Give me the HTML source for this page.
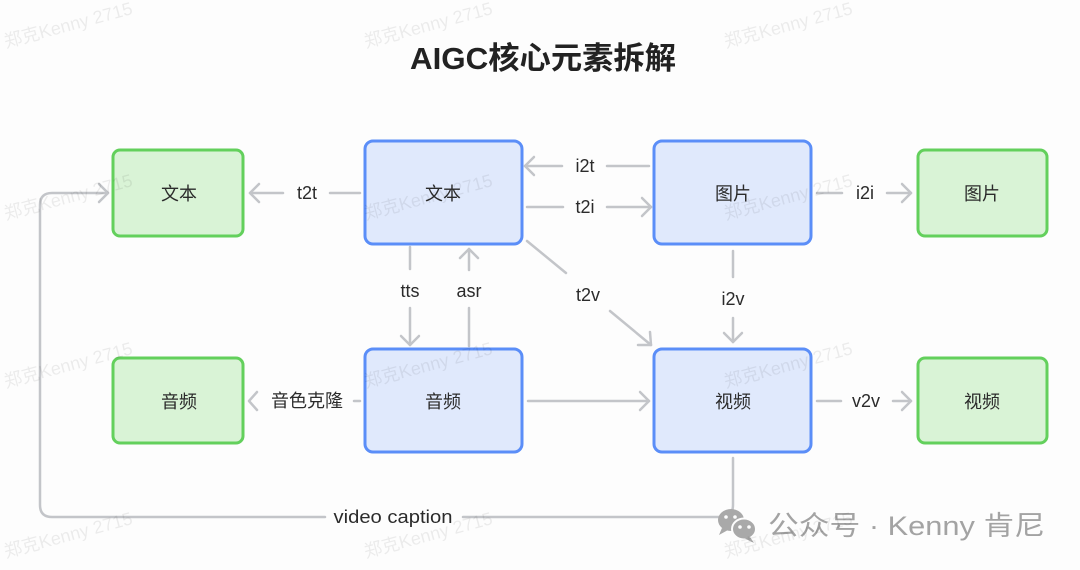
<!DOCTYPE html>
<html>
<head>
<meta charset="utf-8">
<style>
  html, body { margin: 0; padding: 0; background: #fdfdfd; }
  body { width: 1080px; height: 570px; overflow: hidden; }
  svg { display: block; }
  .lbl { font-family: "Liberation Sans", "Noto Sans CJK SC", sans-serif; font-size: 18px; fill: #2b2b2b; }
  .node { font-family: "Liberation Sans", "Noto Sans CJK SC", sans-serif; font-size: 18px; fill: #2b2b2b; }
  .wm { font-family: "Liberation Sans", "Noto Sans CJK SC", sans-serif; font-size: 18px; fill: #000; fill-opacity: 0.07; }
</style>
</head>
<body>
<svg width="1080" height="570" viewBox="0 0 1080 570" xmlns="http://www.w3.org/2000/svg">
  <rect x="0" y="0" width="1080" height="570" fill="#fdfdfd"/>

  <!-- title -->
  <text x="543" y="69" text-anchor="middle" font-family="'Liberation Sans','Noto Sans CJK SC',sans-serif" font-size="31" font-weight="bold" fill="#222" textLength="266" lengthAdjust="spacingAndGlyphs">AIGC核心元素拆解</text>

  <!-- connectors -->
  <g stroke="#c3c5c9" stroke-width="2.5" fill="none" stroke-linecap="round" stroke-linejoin="round">
    <!-- t2t -->
    <path d="M360,193 H330"/>
    <path d="M283,193 H250"/>
    <path d="M259,184 L250,193 L259,202"/>
    <!-- i2t -->
    <path d="M649,166 H607"/>
    <path d="M562,166 H525"/>
    <path d="M534,157 L525,166 L534,175"/>
    <!-- t2i -->
    <path d="M527,207 H563"/>
    <path d="M607,207 H651"/>
    <path d="M642,198 L651,207 L642,216"/>
    <!-- i2i -->
    <path d="M817,193 H842"/>
    <path d="M887,193 H911"/>
    <path d="M902,184 L911,193 L902,202"/>
    <!-- i2v -->
    <path d="M733,251 V277"/>
    <path d="M733,318 V342"/>
    <path d="M724,333 L733,342 L742,333"/>
    <!-- t2v -->
    <path d="M527,241 L566,273"/>
    <path d="M610,311 L651,345"/>
    <path d="M638,345 L651,345 L650,332"/>
    <!-- tts -->
    <path d="M410,247 V269"/>
    <path d="M410,308 V345"/>
    <path d="M401,336 L410,345 L419,336"/>
    <!-- asr -->
    <path d="M469,346 V308"/>
    <path d="M469,270 V249"/>
    <path d="M460,258 L469,249 L478,258"/>
    <!-- 音色克隆 -->
    <path d="M360,401 H354"/>
    <path d="M257,392 L249,401 L257,410"/>
    <!-- audio -> video -->
    <path d="M528,401 H649"/>
    <path d="M640,392 L649,401 L640,410"/>
    <!-- v2v -->
    <path d="M817,401 H841"/>
    <path d="M893,401 H911"/>
    <path d="M902,392 L911,401 L902,410"/>
    <!-- video caption loop -->
    <path d="M733,458 V505 Q733,517 721,517 H463"/>
    <path d="M325,517 H52 Q40,517 40,505 V205 Q40,193 52,193 H108"/>
    <path d="M99,184 L108,193 L99,202"/>
  </g>

  <!-- connector labels -->
  <g class="lbl" text-anchor="middle">
    <text x="307" y="199">t2t</text>
    <text x="585" y="172">i2t</text>
    <text x="585" y="213">t2i</text>
    <text x="865" y="199">i2i</text>
    <text x="733" y="305">i2v</text>
    <text x="588" y="301">t2v</text>
    <text x="410" y="297">tts</text>
    <text x="469" y="297">asr</text>
    <text x="307" y="407" textLength="72" lengthAdjust="spacingAndGlyphs">音色克隆</text>
    <text x="866" y="407">v2v</text>
    <text x="393" y="523" textLength="119" lengthAdjust="spacingAndGlyphs">video caption</text>
  </g>

  <!-- green nodes -->
  <g fill="#d9f3d6" stroke="#63d05c" stroke-width="3">
    <rect x="113" y="150" width="130" height="86" rx="7"/>
    <rect x="918" y="150" width="129" height="86" rx="7"/>
    <rect x="113" y="358" width="130" height="85" rx="7"/>
    <rect x="918" y="358" width="129" height="85" rx="7"/>
  </g>
  <!-- blue nodes -->
  <g fill="#e0e9fc" stroke="#5b8ef8" stroke-width="3">
    <rect x="365" y="141" width="157" height="103" rx="8"/>
    <rect x="654" y="141" width="157" height="103" rx="8"/>
    <rect x="365" y="349" width="157" height="103" rx="8"/>
    <rect x="654" y="349" width="157" height="103" rx="8"/>
  </g>

  <!-- node labels -->
  <g class="node" text-anchor="middle">
    <text x="179" y="200">文本</text>
    <text x="443" y="200">文本</text>
    <text x="733" y="200">图片</text>
    <text x="982" y="200">图片</text>
    <text x="179" y="408">音频</text>
    <text x="443" y="408">音频</text>
    <text x="733" y="408">视频</text>
    <text x="982" y="408">视频</text>
  </g>

  <!-- footer watermark: wechat icon -->
  <g>
    <ellipse cx="731" cy="520" rx="13" ry="11" fill="#a9a9a9"/>
    <path d="M722,528 L719,535 L728,530 Z" fill="#a9a9a9"/>
    <circle cx="726" cy="517" r="1.8" fill="#fdfdfd"/>
    <circle cx="735" cy="517" r="1.8" fill="#fdfdfd"/>
    <ellipse cx="744" cy="529" rx="12" ry="10.5" fill="#a9a9a9" stroke="#fdfdfd" stroke-width="2"/>
    <path d="M750,537 L754,543 L744,538 Z" fill="#a9a9a9"/>
    <circle cx="740" cy="527" r="1.8" fill="#fdfdfd"/>
    <circle cx="749" cy="527" r="1.8" fill="#fdfdfd"/>
  </g>
  <text x="768" y="535" font-family="'Liberation Sans','Noto Sans CJK SC',sans-serif" font-size="27" fill="#a3a3a3" textLength="277" lengthAdjust="spacingAndGlyphs">公众号 · Kenny 肯尼</text>

  <!-- watermarks (overlay) -->
  <g class="wm">
    <text transform="translate(6,48) rotate(-15)">郑克Kenny 2715</text>
    <text transform="translate(366,48) rotate(-15)">郑克Kenny 2715</text>
    <text transform="translate(726,48) rotate(-15)">郑克Kenny 2715</text>
    <text transform="translate(6,220) rotate(-15)">郑克Kenny 2715</text>
    <text transform="translate(366,220) rotate(-15)">郑克Kenny 2715</text>
    <text transform="translate(726,220) rotate(-15)">郑克Kenny 2715</text>
    <text transform="translate(6,388) rotate(-15)">郑克Kenny 2715</text>
    <text transform="translate(366,388) rotate(-15)">郑克Kenny 2715</text>
    <text transform="translate(726,388) rotate(-15)">郑克Kenny 2715</text>
    <text transform="translate(6,558) rotate(-15)">郑克Kenny 2715</text>
    <text transform="translate(366,558) rotate(-15)">郑克Kenny 2715</text>
    <text transform="translate(726,558) rotate(-15)">郑克Kenny 2715</text>
  </g>
</svg>
</body>
</html>
